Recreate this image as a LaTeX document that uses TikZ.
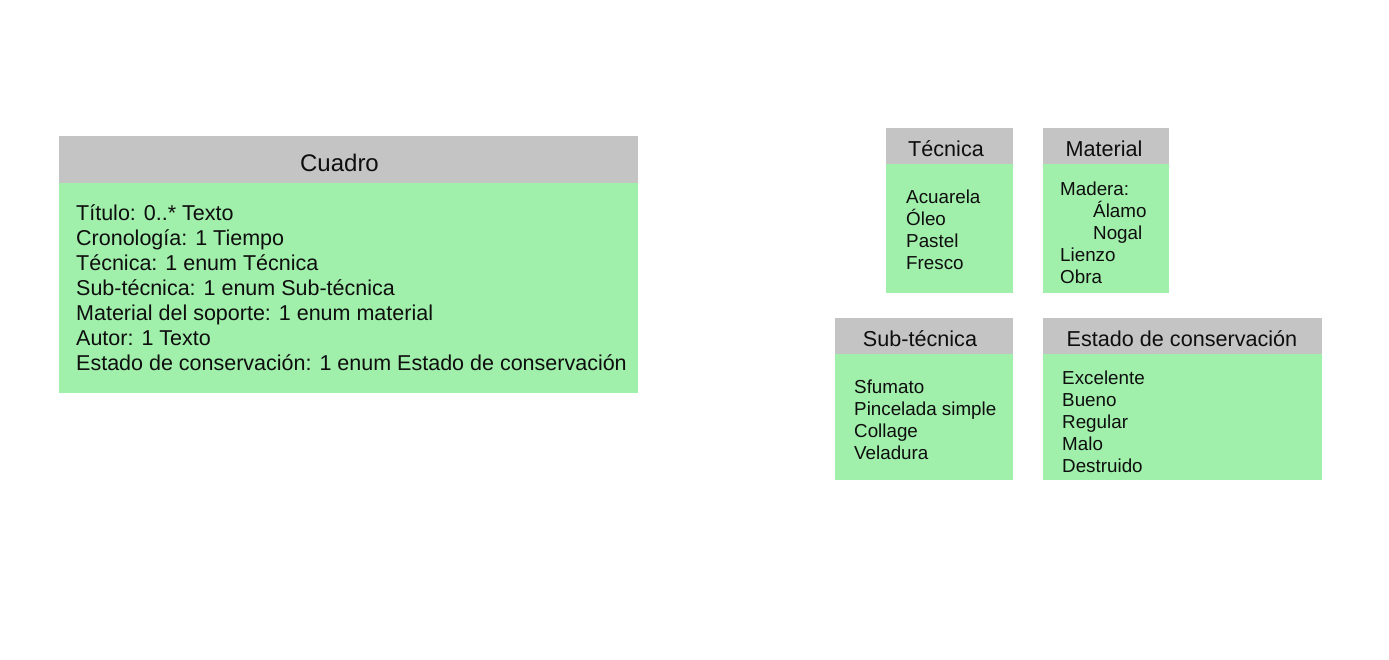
\documentclass[tikz,border=0pt]{standalone}
\usepackage{fontspec}
\setmainfont{Liberation Sans}
\definecolor{headgray}{HTML}{C4C4C4}
\definecolor{bodygreen}{HTML}{A0EFAA}
\definecolor{ink}{HTML}{0E0E0E}

\begin{document}
\begin{tikzpicture}[x=1pt, y=-1pt, ink,
    item/.style={anchor=base west, inner sep=0pt, font=\fontsize{18.8}{22}\selectfont},
    bigitem/.style={item, font=\fontsize{21.5}{25}\selectfont},
    title/.style={anchor=base, inner sep=0pt, font=\fontsize{21.6}{26}\selectfont},
  ]
% --- Canvas ------------------------------------------------------------
\useasboundingbox (0,0) rectangle (1389,659);
\fill[white] (0,0) rectangle (1389,659);

% --- Cuadro: the class ---------------------------------------------------
\fill[headgray] (59,136) rectangle (638,183);
\fill[bodygreen] (59,183) rectangle (638,393);
\node[title, font=\fontsize{24}{28}\selectfont] (cuadro) at (339.5,171.5) {Cuadro};
\foreach \t [count=\i] in {{Título: 0..* Texto}, {Cronología: 1 Tiempo},
    {Técnica: 1 enum Técnica}, {Sub-técnica: 1 enum Sub-técnica},
    {Material del soporte: 1 enum material}, {Autor: 1 Texto},
    {Estado de conservación: 1 enum Estado de conservación}} {
  \node[bigitem] (cuadro-\i) at (76,195+25*\i) {\t};
}

% --- The enums (header, then body) ---------------------------------------
\foreach \x/\X/\y/\Y/\z in {886/1013/128/164/293, 1043/1169/128/164/293,
    835/1013/318/354/480, 1043/1322/318/354/480} {
  \fill[headgray] (\x,\y) rectangle (\X,\Y);
  \fill[bodygreen] (\x,\Y) rectangle (\X,\z);
}

% Técnica
\node[title] (tecnica) at (946,156.5) {Técnica};
\foreach \t [count=\i] in {Acuarela, Óleo, Pastel, Fresco}
  \node[item] (tecnica-\i) at (906,181+22*\i) {\t};

% Material
\node[title] (material) at (1104,156.5) {Material};
\foreach \x/\t [count=\i] in {1060/Madera:, 1093/Álamo, 1093/Nogal, 1060/Lienzo, 1060/Obra}
  \node[item] (material-\i) at (\x,173+22*\i) {\t};

% Sub-técnica
\node[title] (subtecnica) at (920,346.5) {Sub-técnica};
\foreach \t [count=\i] in {Sfumato, Pincelada simple, Collage, Veladura}
  \node[item] (subtecnica-\i) at (854,371+22*\i) {\t};

% Estado de conservación
\node[title] (estado) at (1182,346.5) {Estado de conservación};
\foreach \t [count=\i] in {Excelente, Bueno, Regular, Malo, Destruido}
  \node[item] (estado-\i) at (1062,362+22*\i) {\t};
\end{tikzpicture}
\end{document}
